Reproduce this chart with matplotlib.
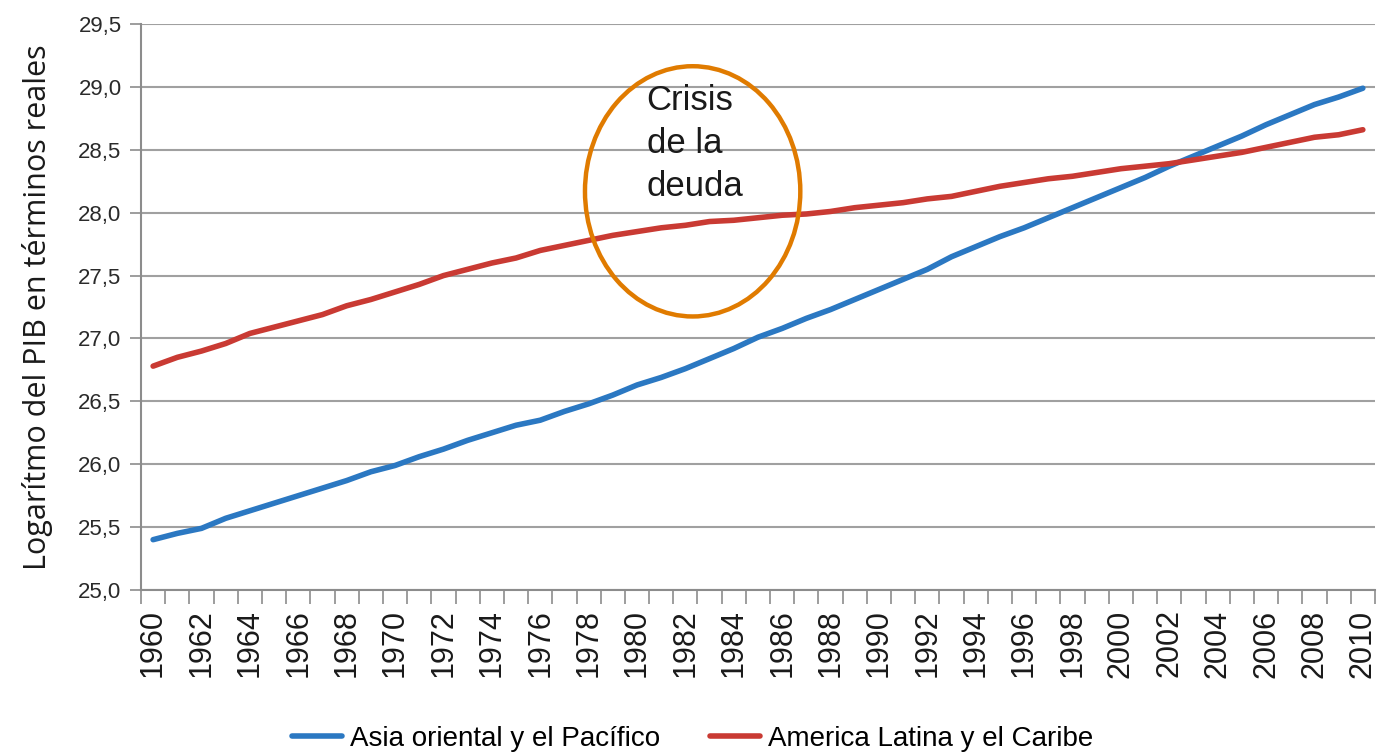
import matplotlib
matplotlib.use('Agg')
import matplotlib.pyplot as plt
from matplotlib.patches import Ellipse

years = list(range(1960, 2011))

asia_pacifico = [
    25.40, 25.45, 25.49, 25.57, 25.63, 25.69, 25.75, 25.81, 25.87, 25.94,
    25.99, 26.06, 26.12, 26.19, 26.25, 26.31, 26.35, 26.42, 26.48, 26.55,
    26.63, 26.69, 26.76, 26.84, 26.92, 27.01, 27.08, 27.16, 27.23, 27.31,
    27.39, 27.47, 27.55, 27.65, 27.73, 27.81, 27.88, 27.96, 28.04, 28.12,
    28.20, 28.28, 28.37, 28.45, 28.53, 28.61, 28.70, 28.78, 28.86, 28.92,
    28.99,
]

america_latina = [
    26.78, 26.85, 26.90, 26.96, 27.04, 27.09, 27.14, 27.19, 27.26, 27.31,
    27.37, 27.43, 27.50, 27.55, 27.60, 27.64, 27.70, 27.74, 27.78, 27.82,
    27.85, 27.88, 27.90, 27.93, 27.94, 27.96, 27.98, 27.99, 28.01, 28.04,
    28.06, 28.08, 28.11, 28.13, 28.17, 28.21, 28.24, 28.27, 28.29, 28.32,
    28.35, 28.37, 28.39, 28.42, 28.45, 28.48, 28.52, 28.56, 28.60, 28.62,
    28.66,
]

y_ticks = [25.0, 25.5, 26.0, 26.5, 27.0, 27.5, 28.0, 28.5, 29.0, 29.5]

plt.rcParams['font.family'] = ['Liberation Sans', 'DejaVu Sans']

fig = plt.figure(figsize=(13.77, 7.53), dpi=100)
ax = fig.add_axes([0.1024, 0.2165, 0.8961, 0.7515])

idx = list(range(len(years)))
ax.plot(idx, asia_pacifico, color='#2B78C2', linewidth=4.0,
        solid_capstyle='round', label='Asia oriental y el Pacífico', zorder=3)
ax.plot(idx, america_latina, color='#C93A33', linewidth=4.0,
        solid_capstyle='round', label='America Latina y el Caribe', zorder=3)

ax.set_xlim(-0.5, len(years) - 0.5)
ax.set_ylim(25.0, 29.5)

# y axis
ax.set_yticks(y_ticks)
ax.set_yticklabels([f'{v:.1f}'.replace('.', ',') for v in y_ticks])
ax.tick_params(axis='y', length=8, width=1.2, color='#8C8C8C',
               labelsize=16, labelcolor='#2a2a2a', pad=6)
ax.yaxis.grid(True, color='#A0A0A0', linewidth=1.5)
ax.set_axisbelow(True)

# x axis: boundary ticks, labels every two years
ax.set_xticks([i - 0.5 for i in range(len(years) + 1)], minor=True)
ax.set_xticks(idx[::2])
ax.set_xticklabels([str(y) for y in years[::2]], rotation=90)
ax.tick_params(axis='x', which='major', length=0, labelsize=22,
               labelcolor='#1a1a1a', pad=14)
ax.tick_params(axis='x', which='minor', length=10, width=1.2, color='#8C8C8C')

for side in ['top', 'right']:
    ax.spines[side].set_visible(False)
for side in ['left', 'bottom']:
    ax.spines[side].set_color('#8C8C8C')
    ax.spines[side].set_linewidth(1.5)

ax.set_ylabel('Logarítmo del PIB en términos reales', family=['Open Sans', 'DejaVu Sans'],
              fontsize=22, color='#1a1a1a', labelpad=18)

# crisis annotation
ax.add_patch(Ellipse((22.3, 28.17), 8.9, 1.99, fill=False, edgecolor='#E07B00',
                     linewidth=3.2, zorder=4))
ax.text(20.4, 29.02, 'Crisis\nde la\ndeuda', fontsize=25, color='#1a1a1a',
        va='top', ha='left', linespacing=1.38, zorder=5)

fig.legend(loc='lower center', bbox_to_anchor=(0.503, -0.032), ncol=2, frameon=False,
           fontsize=20, handlelength=1.8, handletextpad=0.3, columnspacing=1.8)

fig.savefig('out.png', dpi=100)
